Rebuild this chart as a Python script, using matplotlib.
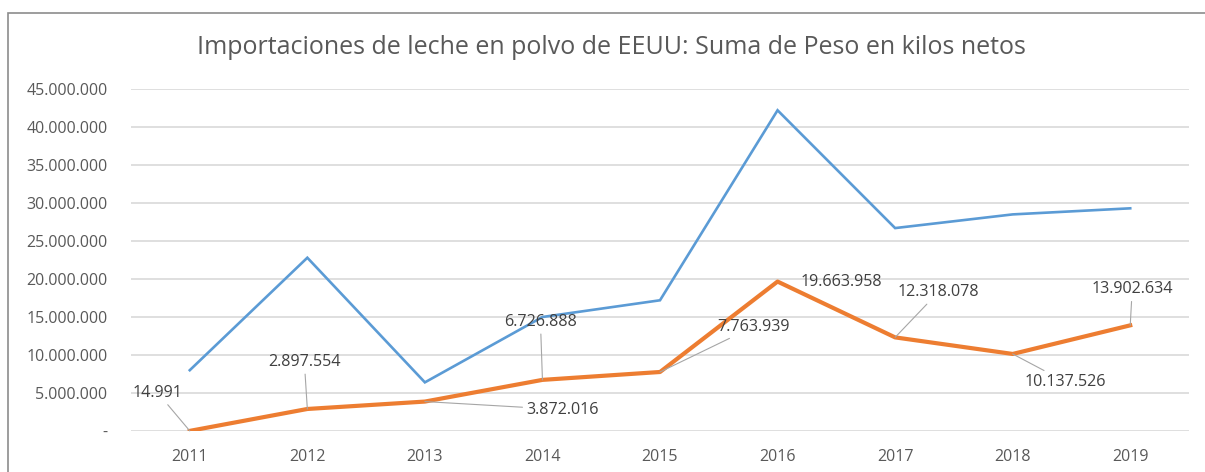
import matplotlib
matplotlib.use("Agg")
import matplotlib.pyplot as plt
from matplotlib.ticker import FuncFormatter, MultipleLocator
from matplotlib.patches import Rectangle

years = ["2011", "2012", "2013", "2014", "2015", "2016", "2017", "2018", "2019"]
blue_values = [8000000, 22800000, 6400000, 15000000, 17200000, 42200000, 26700000, 28500000, 29300000]
orange_values = [14991, 2897554, 3872016, 6726888, 7763939, 19663958, 12318078, 10137526, 13902634]

# label offsets in pixels (dx, dy up), and whether a leader line is drawn
label_offsets = [(-32, 38), (-3, 47), (138, -8), (-2, 58), (93, 45), (64, 0), (43, 45), (53, -28), (2, 36)]
label_leader = [True, True, True, True, True, False, True, True, True]

W, H = 1205, 472
fig = plt.figure(figsize=(W / 100, H / 100), dpi=100)
fig.patch.set_facecolor("white")

ax = fig.add_axes([131 / W, 41 / H, (1189 - 131) / W, (431 - 89) / H])
x = list(range(len(years)))

ax.set_xlim(-0.5, len(years) - 0.5)
ax.set_ylim(0, 45000000)
ax.yaxis.set_major_locator(MultipleLocator(5000000))


def fmt(v, pos):
    if abs(v) < 1:
        return "-"
    return f"{int(round(v)):,}".replace(",", ".")


ax.yaxis.set_major_formatter(FuncFormatter(fmt))
ax.set_xticks(x)
ax.set_xticklabels(years)

font = "Open Sans"
for lab in ax.get_yticklabels() + ax.get_xticklabels():
    lab.set_fontfamily(font)
    lab.set_fontsize(11.5)
    lab.set_color("#595959")
ax.tick_params(axis="y", length=0, pad=17)
ax.tick_params(axis="x", length=0, pad=13)

ax.grid(axis="y", color="#D9D9D9", linewidth=1.2)
ax.set_axisbelow(True)
for s in ax.spines.values():
    s.set_visible(False)

ax.plot(x, blue_values, color="#5B9BD5", linewidth=1.9, solid_joinstyle="miter", zorder=3)
ax.plot(x, orange_values, color="#ED7D31", linewidth=3.0, solid_joinstyle="round", zorder=3)

for i, v in enumerate(orange_values):
    dx, dy = label_offsets[i]
    kw = {}
    if label_leader[i]:
        kw["arrowprops"] = dict(arrowstyle="-", color="#A6A6A6", lw=0.8, shrinkA=1, shrinkB=0)
    ax.annotate(fmt(v, None), xy=(i, v), xytext=(dx * 0.72, dy * 0.72), textcoords="offset points",
                ha="center", va="center", fontsize=11.6, fontfamily=font, color="#404040",
                zorder=5, **kw)

fig.text(611 / W, (472 - 47) / H, "Importaciones de leche en polvo de EEUU: Suma de Peso en kilos netos",
         ha="center", va="center", fontsize=18, fontfamily=font, color="#595959")

frame = Rectangle((8 / W, -0.2), 1.5, (472 - 12.5) / H + 0.2, transform=fig.transFigure,
                  fill=False, edgecolor="#8C8C8C", linewidth=1.2)
fig.patches.append(frame)

fig.savefig("out.png", dpi=100)
